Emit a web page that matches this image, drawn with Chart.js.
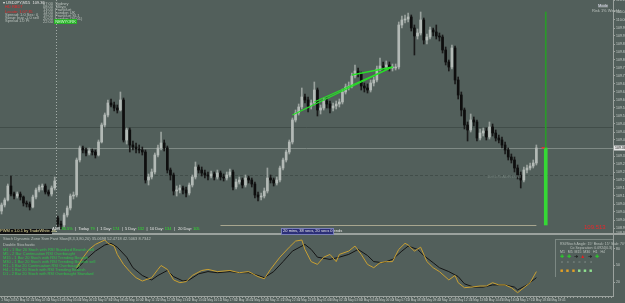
<!DOCTYPE html>
<html>
<head>
<meta charset="utf-8">
<title>USDJPY,M15</title>
<script src="https://cdn.jsdelivr.net/npm/chart.js@4.4.1/dist/chart.umd.min.js"></script>
<style>
  body { margin: 0; width: 625px; height: 303px; overflow: hidden; position: relative; background: #525f5b; font-family: "Liberation Sans", Arial, sans-serif; }
  canvas { position: absolute; left: 0; }
  #main { top: 0; }
  #sub { top: 235px; }
  .sep { position: absolute; left: 0; top: 233px; width: 625px; height: 2px; background: #9ba29e; }
  .t { position: absolute; font-size: 4px; line-height: 4px; white-space: nowrap; color: #b9c0bc; }
  .red { color: #e8272b; }
  .grn { color: #2ee02e; }
  .wht { color: #e6e6e6; }
  .box { position: absolute; }
</style>
</head>
<body>
<canvas id="main" width="625" height="233"></canvas>
<div class="sep"></div>
<canvas id="sub" width="625" height="68"></canvas>

<!-- top left info block -->
<div class="t wht" style="left:3px;top:1px">&#9662; USDJPY,M15 &nbsp;109.36</div>
<div class="t red" style="left:5px;top:5px">HD RBDT</div>
<div class="t red" style="left:5px;top:10px">Locate: 1:07:35</div>
<div class="t" style="left:5px;top:13px">Spread: 1.0 Sec: 0</div>
<div class="t" style="left:5px;top:16px">Swap: buy -1.0 sell</div>
<div class="t" style="left:5px;top:19px">Spread 1.0 Pt</div>
<div class="t" style="left:43px;top:2px">07:00 &nbsp;Sydney</div>
<div class="t" style="left:43px;top:5px">08:00 &nbsp;Tokyo</div>
<div class="t" style="left:43px;top:8px">13:00 &nbsp;Frankfurt</div>
<div class="t" style="left:43px;top:11px">14:00 &nbsp;London UK</div>
<div class="t" style="left:43px;top:14px">19:00 &nbsp;Frankfurt SL1</div>
<div class="t" style="left:43px;top:17px">20:00 &nbsp;London (16:01)</div>
<div class="t" style="left:43px;top:20px">22:00 <span style="background:#27b027;color:#d8ffd8">&nbsp;NEWYORK&nbsp;</span></div>

<!-- top right -->
<div class="t" style="left:598px;top:4px;background:#6b7672;color:#dde">Mode</div>
<div class="t" style="left:592px;top:9px">Risk 1% Weekly</div>

<div class="t" style="left:487px;top:175px;color:#73817c">109.175 ADR LOW</div>

<!-- bottom of main window -->
<div class="t" style="left:0;top:229px;width:52px;height:5px;background:#111;color:#e8e0a0">PWM v 1.0.1 by TradeWhite -id-</div>
<div class="t wht" style="left:52px;top:227px">ADR <span class="grn">80.5%</span> &nbsp;| &nbsp;Today <span class="grn">79</span> &nbsp;| &nbsp;1 Day: <span class="grn">174</span> &nbsp;| &nbsp;5 Day: <span class="grn">132</span> &nbsp;| &nbsp;10 Day: <span class="grn">134</span> &nbsp;| &nbsp;&nbsp;20 Day: <span class="grn">105</span></div>
<div class="t wht" style="left:282px;top:229px;width:51px;height:5px;background:#2c2f78;outline:1px solid #7a80b8">&nbsp;20 mins, 38 secs, 20 secs 0 ends</div>
<div class="t red" style="left:584px;top:224px;font-size:6px;line-height:6px">109.513</div>

<!-- indicator window texts -->
<div class="t" style="left:3px;top:237px">Stoch Dynamic Zone Ssm Fast Slow(8,3,3,80,20) 35.0698 52.4718 42.5063 8.7342</div>
<div class="t" style="left:3px;top:243px">Double Stochastic</div>
<div class="t grn" style="left:3px;top:248px;color:#2fc24a">M1 - 1 Bar 20 Stoch with RSI Standard Bearish sell</div>
<div class="t grn" style="left:3px;top:252px;color:#2fc24a">M5 - 2 Bar Continuation RSI Overbought</div>
<div class="t grn" style="left:3px;top:256px;color:#2fc24a">M15 - 1 Bar 20 Stoch with RSI Trending Bearish</div>
<div class="t grn" style="left:3px;top:260px;color:#2fc24a">M30 - 1 Bar 20 Stoch with RSI Trending Bearish sell</div>
<div class="t grn" style="left:3px;top:264px;color:#2fc24a">H1 - 1 Bar 20 Continuation RSI Overbought</div>
<div class="t grn" style="left:3px;top:268px;color:#2fc24a">H4 - 1 Bar 20 Stoch with RSI Trending Bearish</div>
<div class="t grn" style="left:3px;top:272px;color:#2fc24a">D1 - 2 Bar 20 Stoch with RSI Overbought Standard</div>

<!-- signal table -->
<div class="box" style="left:555px;top:239px;width:57px;height:37px;border-left:1px solid #7c8883;border-top:1px solid #7c8883"></div>
<div class="t" style="left:560px;top:242px;font-size:3.5px">RSI/Stoch Angle: 15° Break: 15° Slab: 70°</div>
<div class="t" style="left:570px;top:246px;font-size:3.5px">Co Separation: 0.0924(0.3)</div>
<div class="t" style="left:560px;top:250px;font-size:3.5px">M1 &nbsp;&nbsp;M5 &nbsp;M15 &nbsp;M30 &nbsp;&nbsp;H1 &nbsp;&nbsp;H4</div>
<div class="t" style="left:560px;top:254px;font-size:5px;line-height:5px"><span style="color:#2ad02a">&#10010;</span>&nbsp;&nbsp;<span style="color:#2ad02a">&#10010;</span>&nbsp;&nbsp;<span style="color:#111">&#10140;</span>&nbsp;&nbsp;<span style="color:#e02020">&#9650;</span>&nbsp;&nbsp;<span style="color:#111">&#10140;</span>&nbsp;&nbsp;<span style="color:#2ad02a">&#10010;</span></div>
<div class="t" style="left:561px;top:260px;font-size:3.5px;color:#8c9793">o &nbsp;&nbsp;&nbsp;o &nbsp;&nbsp;&nbsp;o &nbsp;&nbsp;&nbsp;o &nbsp;&nbsp;&nbsp;o &nbsp;&nbsp;&nbsp;o</div>
<div class="t" style="left:560px;top:268px;font-size:5px;line-height:5px"><span style="color:#e3a026">&#9632;</span>&nbsp;&nbsp;<span style="color:#e3a026">&#9632;</span>&nbsp;&nbsp;<span style="color:#e3a026">&#9632;</span>&nbsp;&nbsp;<span style="color:#8fe08f">&#9632;</span>&nbsp;&nbsp;<span style="color:#8fe08f">&#9632;</span>&nbsp;&nbsp;<span style="color:#8fe08f">&#9632;</span></div>

<script>
// candle data, USDJPY M15
const opens = [
  109.045,109.075,109.100,109.170,109.130,109.120,109.130,109.115,109.085,109.080,
  109.065,109.115,109.150,109.165,109.170,109.140,109.130,109.160,109.010,108.980,
  108.975,109.025,109.060,109.120,109.125,109.300,109.360,109.350,109.335,109.345,
  109.340,109.325,109.390,109.475,109.525,109.585,109.575,109.560,109.550,109.600,
  109.400,109.450,109.375,109.365,109.355,109.350,109.340,109.200,109.215,109.240,
  109.325,109.360,109.385,109.360,109.250,109.225,109.145,109.150,109.160,109.150,
  109.135,109.175,109.215,109.265,109.250,109.235,109.225,109.220,109.230,109.215,
  109.235,109.215,109.210,109.225,109.240,109.165,109.190,109.200,109.175,109.210,
  109.200,109.180,109.125,109.115,109.120,109.145,109.210,109.200,109.185,109.200,
  109.260,109.300,109.340,109.390,109.500,109.535,109.565,109.615,109.600,109.570,
  109.585,109.650,109.550,109.560,109.595,109.580,109.560,109.570,109.580,109.590,
  109.640,109.665,109.670,109.720,109.745,109.730,109.670,109.660,109.650,109.685,
  109.700,109.755,109.770,109.765,109.775,109.760,109.760,109.765,109.975,110.000,
  110.005,110.015,109.960,109.920,109.935,110.000,109.900,109.915,109.950,109.940,
  109.920,109.915,109.850,109.790,109.765,109.860,109.700,109.625,109.550,109.475,
  109.450,109.500,109.490,109.410,109.435,109.445,109.415,109.465,109.435,109.410,
  109.400,109.375,109.350,109.315,109.300,109.260,109.225,109.200,109.250,109.260,
  109.270,109.285
];
const highs = [
  109.085,109.110,109.180,109.220,109.140,109.140,109.140,109.120,109.095,109.090,
  109.125,109.160,109.175,109.180,109.180,109.150,109.170,109.215,109.020,108.995,
  109.035,109.070,109.130,109.140,109.310,109.370,109.370,109.360,109.360,109.355,
  109.350,109.400,109.485,109.535,109.600,109.605,109.590,109.575,109.640,109.610,
  109.460,109.460,109.395,109.385,109.375,109.365,109.350,109.230,109.255,109.335,
  109.375,109.440,109.400,109.370,109.260,109.235,109.170,109.175,109.170,109.165,
  109.185,109.225,109.290,109.275,109.265,109.250,109.240,109.245,109.240,109.250,
  109.245,109.230,109.240,109.255,109.250,109.205,109.215,109.210,109.225,109.220,
  109.210,109.190,109.140,109.135,109.160,109.260,109.225,109.210,109.215,109.270,
  109.310,109.350,109.400,109.510,109.550,109.580,109.660,109.630,109.615,109.600,
  109.690,109.660,109.575,109.610,109.610,109.595,109.585,109.595,109.605,109.655,
  109.680,109.690,109.735,109.775,109.760,109.740,109.685,109.680,109.700,109.715,
  109.770,109.810,109.790,109.795,109.790,109.780,109.780,109.990,110.020,110.025,
  110.035,110.025,109.975,109.955,110.040,110.010,109.930,109.965,109.960,109.975,
  109.935,109.925,109.865,109.800,109.875,109.870,109.715,109.640,109.560,109.490,
  109.530,109.515,109.500,109.455,109.460,109.460,109.490,109.480,109.450,109.425,
  109.415,109.390,109.360,109.330,109.315,109.275,109.240,109.265,109.275,109.285,
  109.300,109.375
];
const lows = [
  109.030,109.065,109.095,109.120,109.105,109.110,109.100,109.070,109.065,109.050,
  109.060,109.105,109.140,109.150,109.130,109.120,109.120,109.150,108.965,108.955,
  108.965,109.015,109.050,109.105,109.115,109.290,109.335,109.320,109.325,109.325,
  109.310,109.320,109.385,109.465,109.515,109.565,109.545,109.535,109.545,109.390,
  109.380,109.340,109.350,109.335,109.335,109.325,109.185,109.175,109.205,109.230,
  109.315,109.350,109.345,109.235,109.200,109.125,109.120,109.135,109.130,109.115,
  109.125,109.165,109.205,109.235,109.220,109.210,109.200,109.210,109.200,109.205,
  109.200,109.195,109.200,109.215,109.150,109.155,109.180,109.160,109.165,109.185,
  109.165,109.110,109.095,109.100,109.110,109.135,109.185,109.170,109.175,109.190,
  109.250,109.290,109.330,109.380,109.490,109.525,109.555,109.585,109.540,109.555,
  109.575,109.520,109.530,109.550,109.560,109.535,109.545,109.555,109.565,109.580,
  109.630,109.650,109.660,109.710,109.715,109.650,109.640,109.635,109.640,109.670,
  109.690,109.745,109.750,109.755,109.745,109.745,109.750,109.755,109.960,109.985,
  109.990,109.945,109.825,109.905,109.925,109.880,109.880,109.905,109.920,109.905,
  109.895,109.835,109.775,109.745,109.755,109.680,109.605,109.520,109.455,109.395,
  109.440,109.470,109.395,109.400,109.420,109.400,109.405,109.420,109.395,109.385,
  109.360,109.330,109.300,109.285,109.240,109.205,109.160,109.190,109.235,109.250,
  109.260,109.275
];
const closes = [
  109.075,109.100,109.170,109.130,109.120,109.130,109.115,109.085,109.080,109.065,
  109.115,109.150,109.165,109.170,109.140,109.130,109.160,109.195,108.980,108.975,
  109.025,109.060,109.120,109.125,109.300,109.360,109.350,109.335,109.345,109.340,
  109.325,109.390,109.475,109.525,109.585,109.575,109.560,109.550,109.600,109.400,
  109.450,109.375,109.365,109.355,109.350,109.340,109.200,109.215,109.240,109.325,
  109.360,109.385,109.360,109.250,109.225,109.145,109.150,109.160,109.150,109.135,
  109.175,109.215,109.265,109.250,109.235,109.225,109.220,109.230,109.215,109.235,
  109.215,109.210,109.225,109.240,109.165,109.190,109.200,109.175,109.210,109.200,
  109.180,109.125,109.115,109.120,109.145,109.210,109.200,109.185,109.200,109.260,
  109.300,109.340,109.390,109.500,109.535,109.565,109.615,109.600,109.570,109.585,
  109.650,109.550,109.560,109.595,109.580,109.560,109.570,109.580,109.590,109.640,
  109.665,109.670,109.720,109.745,109.730,109.670,109.660,109.650,109.685,109.700,
  109.755,109.770,109.765,109.775,109.760,109.760,109.765,109.975,110.000,110.005,
  110.015,109.960,109.920,109.935,110.000,109.900,109.915,109.950,109.940,109.920,
  109.915,109.850,109.790,109.765,109.860,109.700,109.625,109.550,109.475,109.450,
  109.500,109.490,109.410,109.435,109.445,109.415,109.465,109.435,109.410,109.400,
  109.375,109.350,109.315,109.300,109.260,109.225,109.200,109.250,109.260,109.270,
  109.285,109.360
];

// time axis labels, one every 5 bars
const timeLabels = [
  '2 May 2019','2 May 01:15','2 May 02:30','2 May 03:45','2 May 05:00','2 May 06:15',
  '2 May 07:30','2 May 08:45','2 May 10:00','2 May 11:15','2 May 12:30','2 May 13:45',
  '2 May 15:00','2 May 16:15','2 May 17:30','2 May 18:45','2 May 20:00','2 May 21:15',
  '2 May 22:30','2 May 23:45','3 May 01:00','3 May 02:15','3 May 03:30','3 May 04:45',
  '3 May 06:00','3 May 07:15','3 May 08:30','3 May 09:45','3 May 11:00','3 May 12:15',
  '3 May 13:30','3 May 14:45','3 May 16:00','3 May 17:15','3 May 18:30','3 May 19:45'
];

// price levels drawn across the main window
const levelPrices = [109.465, 109.360, 109.225];
const bidPrice = 109.360;
const adrLowPrice = 108.975;
const adrBar = [108.975, 109.360, 110.040]; // low, bid, high of the range bar
const adrBarAt = 174;

// trend lines (bar index / price)
const trendStartAt = [93, 100, 112];
const trendStartPrice = [109.525, 109.590, 109.725];
const trendEndAt = 125;
const trendEndPrice = 109.765;

// stochastic lines, sampled bars
const fastAt = [24,26,28,30,33,34,36,37,39,41,43,45,48,50,51,53,55,57,59,61,64,66,69,73,76,79,82,84,86,89,92,94,96,97,99,101,103,105,107,108,111,113,115,117,119,121,123,125,127,129,130,132,134,136,138,140,143,145,146,148,150,153,155,157,159,161,163,165,167,169,171];
const fastVal = [46,64,79,88,96,90,85,70,52,39,28,22,28,43,50,43,24,19,21,32,41,43,39,41,37,39,30,26,43,65,83,94,96,79,57,52,65,70,57,70,76,85,70,52,46,55,57,57,79,90,87,76,83,57,46,39,24,32,19,10,11,13,13,19,15,15,10,1,10,19,39];
const slowAt = [24,27,30,33,35,37,40,42,45,48,50,53,55,58,60,63,66,69,73,76,79,82,84,87,90,93,97,99,101,105,108,111,114,117,119,122,125,128,130,133,135,138,140,143,146,148,151,154,157,161,164,165,168,171];
const slowVal = [43,61,76,87,90,83,65,46,32,24,32,41,30,22,24,35,39,37,39,37,37,32,28,39,57,76,88,79,65,61,65,70,79,68,57,55,61,76,85,79,68,55,46,39,30,17,11,11,15,15,11,6,15,28];
const subTicks = [20, 50, 80];

const N = 196; // bar slots visible in the window
const BULL = '#b3bab6', BEAR = '#0e0e0e';

const labels = [];
for (let i = 0; i < N; i++) labels.push(i % 5 === 0 && timeLabels[i / 5] ? timeLabels[i / 5] : '');

function slots() { return new Array(N).fill(null); }

const bodies = slots(), wicks = slots(), bodyColors = [], wickColors = [];
closes.forEach((c, i) => {
  bodies[i] = [opens[i], c];
  wicks[i] = [lows[i], highs[i]];
});
for (let i = 0; i < N; i++) {
  const up = closes[i] >= opens[i];
  bodyColors.push(up ? BULL : BEAR);
  wickColors.push(up ? '#9aa29e' : '#1a1a1a');
}

const adrThin = slots(), adrThick = slots();
adrThin[adrBarAt] = [adrBar[1], adrBar[2]];
adrThick[adrBarAt] = [adrBar[0], adrBar[1]];

const trendSets = trendStartAt.map((s, k) => {
  const d = slots();
  d[s] = trendStartPrice[k];
  d[trendEndAt] = trendEndPrice;
  return {
    type: 'line', data: d, borderColor: '#27e027', borderWidth: 1.3,
    pointRadius: 0, spanGaps: true, order: 0
  };
});

const mainOverlay = {
  id: 'mainOverlay',
  beforeDatasetsDraw(chart) {
    const { ctx, chartArea: a, scales: { x, y } } = chart;
    ctx.save();
    // horizontal levels
    const styles = [['#414d49', []], ['#7f8a85', []], ['#414d49', [3, 2]]];
    levelPrices.forEach((p, k) => {
      const py = Math.round(y.getPixelForValue(p)) + 0.5;
      ctx.strokeStyle = styles[k][0];
      ctx.setLineDash(styles[k][1]);
      ctx.lineWidth = 1;
      ctx.beginPath(); ctx.moveTo(a.left, py); ctx.lineTo(a.right, py); ctx.stroke();
    });
    // session separator between bar 17 and 18
    const sx = Math.round((x.getPixelForValue(17) + x.getPixelForValue(18)) / 2) + 0.5;
    ctx.strokeStyle = '#a3aca8';
    ctx.setLineDash([1, 2]);
    ctx.beginPath(); ctx.moveTo(sx, a.top); ctx.lineTo(sx, a.bottom); ctx.stroke();
    // ADR low line
    const ly = Math.round(y.getPixelForValue(adrLowPrice)) + 0.5;
    ctx.setLineDash([]);
    ctx.strokeStyle = '#a8a68f';
    ctx.beginPath(); ctx.moveTo(x.getPixelForValue(70), ly); ctx.lineTo(x.getPixelForValue(closes.length - 1), ly); ctx.stroke();
    ctx.restore();
  },
  afterDraw(chart) {
    const { ctx, chartArea: a, scales: { x, y } } = chart;
    const py = y.getPixelForValue(bidPrice);
    ctx.save();
    // bid tag on the price scale
    ctx.fillStyle = '#e4e6e5';
    ctx.fillRect(a.right + 1, py - 2.5, 12, 5);
    ctx.fillStyle = '#111';
    ctx.font = '3.5px "Liberation Sans"';
    ctx.textBaseline = 'middle';
    ctx.fillText(bidPrice.toFixed(3), a.right + 2, py);
    // small red ask marker
    ctx.fillStyle = '#e03030';
    ctx.fillRect(x.getPixelForValue(closes.length + 1) - 1, py - 1, 3, 1.5);
    ctx.restore();
  }
};

new Chart(document.getElementById('main'), {
  type: 'bar',
  data: {
    labels,
    datasets: [
      ...trendSets,
      { data: bodies, backgroundColor: bodyColors, barThickness: 2, grouped: false, minBarLength: 1, order: 1 },
      { data: wicks, backgroundColor: wickColors, barThickness: 1, grouped: false, order: 2 },
      { data: adrThick, backgroundColor: '#35d835', barThickness: 3, grouped: false, order: 1 },
      { data: adrThin, backgroundColor: '#2a9a2a', barThickness: 1, grouped: false, order: 1 }
    ]
  },
  options: {
    responsive: false,
    animation: false,
    layout: { padding: 0 },
    plugins: { legend: { display: false }, tooltip: { enabled: false } },
    scales: {
      x: { display: false },
      y: {
        position: 'right',
        min: 108.935,
        max: 110.100,
        grid: { drawOnChartArea: false, tickLength: 2, color: '#9ba29e' },
        border: { color: '#9ba29e' },
        ticks: {
          stepSize: 0.04,
          color: '#c9cfcb',
          padding: 1,
          font: { size: 3.5, family: 'Liberation Sans' },
          callback: v => v.toFixed(3)
        },
        afterFit(s) { s.width = 12; s.paddingTop = 0; s.paddingBottom = 0; }
      }
    }
  },
  plugins: [mainOverlay]
});

const fast = slots(), slow = slots();
fastAt.forEach((i, k) => { fast[i] = fastVal[k]; });
slowAt.forEach((i, k) => { slow[i] = slowVal[k]; });

new Chart(document.getElementById('sub'), {
  type: 'line',
  data: {
    labels,
    datasets: [
      { data: fast, borderColor: '#c9a032', borderWidth: 1, pointRadius: 0, spanGaps: true, tension: 0 },
      { data: slow, borderColor: '#141414', borderWidth: 1, pointRadius: 0, spanGaps: true, tension: 0 }
    ]
  },
  options: {
    responsive: false,
    animation: false,
    layout: { padding: 0 },
    plugins: { legend: { display: false }, tooltip: { enabled: false } },
    scales: {
      x: {
        offset: true,
        grid: { drawOnChartArea: false, tickLength: 2, color: '#9ba29e' },
        border: { color: '#9ba29e' },
        ticks: {
          autoSkip: false, maxRotation: 0, padding: 0,
          color: '#c9cfcb', align: 'start',
          font: { size: 3, family: 'Liberation Sans' }
        },
        afterFit(s) { s.height = 7; }
      },
      y: {
        position: 'right',
        min: -5,
        max: 105,
        grid: { drawOnChartArea: false, tickLength: 2, color: '#9ba29e' },
        border: { color: '#9ba29e' },
        ticks: { color: '#c9cfcb', padding: 1, font: { size: 3.5, family: 'Liberation Sans' } },
        afterBuildTicks(s) { s.ticks = subTicks.map(v => ({ value: v })); },
        afterFit(s) { s.width = 12; s.paddingTop = 0; s.paddingBottom = 0; }
      }
    }
  }
});
</script>
</body>
</html>
